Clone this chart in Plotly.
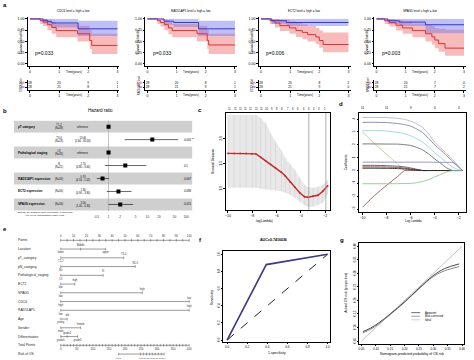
import plotly.graph_objects as go

W, H = 474, 360
FONT = "Liberation Sans, Arial, sans-serif"
RED = "#d83434"
BLUE = "#3636cf"
RED_FILL = "rgba(240,105,105,0.45)"
BLUE_FILL = "rgba(115,115,240,0.45)"

# ---------------- Panel a: Kaplan-Meier data ----------------
genes = ["CDC6", "RAD51AP1", "ECT2", "SPAG5"]
p_values = ["p=0.033", "p=0.033", "p=0.006", "p=0.003"]

km_high_t = [[0, 0.35, 0.45, 0.6, 0.75, 0.9, 1.63, 2.05, 2.12, 3.0],
             [0, 0.34, 0.45, 0.58, 0.72, 0.85, 1.7, 2.05, 2.1, 3.0],
             [0, 0.31, 0.48, 0.65, 0.98, 1.2, 1.42, 1.6, 1.88, 2.0, 2.13, 3.0],
             [0, 0.28, 0.45, 0.67, 0.9, 1.23, 1.68, 1.9, 2.0, 2.13, 2.35, 3.0]]
km_high_s = [[1, 0.96, 0.93, 0.87, 0.81, 0.74, 0.67, 0.52, 0.41, 0.41],
             [1, 0.96, 0.92, 0.87, 0.8, 0.74, 0.67, 0.52, 0.42, 0.42],
             [1, 0.96, 0.91, 0.85, 0.8, 0.74, 0.7, 0.65, 0.6, 0.52, 0.43, 0.43],
             [1, 0.96, 0.92, 0.86, 0.8, 0.74, 0.67, 0.6, 0.53, 0.45, 0.35, 0.35]]
km_high_u = [[1, 1, 1, 0.98, 0.94, 0.89, 0.85, 0.75, 0.67, 0.67],
             [1, 1, 1, 0.98, 0.93, 0.89, 0.85, 0.75, 0.67, 0.67],
             [1, 1, 1, 0.98, 0.95, 0.91, 0.88, 0.84, 0.8, 0.74, 0.7, 0.7],
             [1, 1, 1, 0.97, 0.94, 0.9, 0.87, 0.84, 0.8, 0.78, 0.76, 0.76]]
km_high_l = [[1, 0.89, 0.84, 0.75, 0.67, 0.59, 0.5, 0.33, 0.22, 0.22],
             [1, 0.89, 0.83, 0.75, 0.66, 0.59, 0.5, 0.33, 0.22, 0.22],
             [1, 0.89, 0.81, 0.73, 0.67, 0.6, 0.55, 0.5, 0.44, 0.36, 0.26, 0.26],
             [1, 0.89, 0.83, 0.74, 0.67, 0.59, 0.5, 0.43, 0.35, 0.27, 0.18, 0.18]]
km_low_t = [[0, 0.45, 0.6, 0.75, 1.65, 3.0],
            [0, 0.57, 0.9, 1.75, 3.0],
            [0, 0.37, 0.87, 3.0],
            [0, 0.39, 0.78, 1.68, 3.0]]
km_low_s = [[1, 0.97, 0.94, 0.91, 0.78, 0.78],
            [1, 0.95, 0.92, 0.78, 0.78],
            [1, 0.96, 0.92, 0.92],
            [1, 0.96, 0.93, 0.87, 0.87]]
km_low_u = [[1, 1, 1, 1, 0.96, 0.96],
            [1, 1, 1, 0.96, 0.96],
            [1, 1, 1, 1],
            [1, 1, 1, 1, 1]]
km_low_l = [[1, 0.9, 0.86, 0.81, 0.62, 0.62],
            [1, 0.87, 0.82, 0.62, 0.62],
            [1, 0.89, 0.84, 0.84],
            [1, 0.89, 0.84, 0.68, 0.68]]
risk_times = [0, 1, 2, 3]
risk_high = [[28, 20, 9, 1], [28, 20, 8, 1], [28, 20, 8, 2], [28, 20, 7, 0]]
risk_low = [[28, 21, 8, 1], [28, 21, 9, 1], [28, 21, 9, 0], [28, 21, 7, 2]]

# ---------------- Panel b: forest plot ----------------
fp_var = ["pT category", "", "Pathological staging", "", "RAD51AP1 expression",
          "ECT2 expression", "SPAG5 expression"]
fp_level = ["T1-2<br>(N=38)", "T3-4<br>(N=18)", "I-II<br>(N=35)", "III<br>(N=21)",
            "(N=56)", "(N=56)", "(N=56)"]
fp_hr = [1, 13.4, 1, 2.7, 0.7, 1.8, 2.0]
fp_lo = [1, 2.6, 1, 0.8, 0.5, 0.9, 1.0]
fp_hi = [1, 62.0, 1, 9.4, 1.02, 3.9, 4.3]
fp_ref = [True, False, True, False, False, False, False]
fp_p = ["", "0.001 **", "", "0.1", "0.067", "0.088", "0.051"]
fp_ticks = [0.5, 1, 2, 5, 10, 20, 50, 100]

# ---------------- Panel c: CV deviance ----------------
cv_lam = [-10, -9.5, -9, -8.5, -8, -7.7, -7.3, -6.9, -6.5, -6.1, -5.6, -5.3, -4.9,
          -4.5, -4.1, -3.7, -3.4, -3.0, -2.6, -2.2, -1.8]
cv_dev = [1.71, 1.71, 1.71, 1.71, 1.70, 1.70, 1.63, 1.56, 1.49, 1.42, 1.33, 1.26, 1.14,
          1.03, 0.92, 0.84, 0.83, 0.85, 0.87, 0.95, 1.06]
cv_up = [2.48, 2.48, 2.48, 2.48, 2.48, 2.48, 2.42, 2.32, 2.12, 1.95, 1.77, 1.62, 1.5,
         1.38, 1.22, 1.08, 1.03, 1.02, 1.04, 1.08, 1.17]
cv_lo = [1.02, 1.02, 1.02, 1.02, 1.02, 1.02, 1.0, 0.99, 0.98, 0.97, 0.95, 0.92, 0.88,
         0.82, 0.74, 0.67, 0.64, 0.64, 0.67, 0.72, 0.9]
cv_top_lam = [-9.85, -9.42, -8.98, -8.55, -8.12, -7.68, -7.25, -6.82, -6.38, -5.95,
              -5.52, -5.08, -4.65, -4.22, -3.78, -3.35, -2.92, -2.48, -2.05]
cv_top_n = [11, 11, 11, 11, 11, 11, 11, 10, 9, 8, 8, 7, 6, 6, 6, 6, 4, 3, 2]
lam_min, lam_1se = -3.35, -1.95

# ---------------- Panel d: LASSO paths ----------------
ls_lam = [-10, -9, -8, -7, -6.5, -6, -5.5, -5, -4.5, -4, -3.5, -3, -2.5, -2, -1.7]
ls_coef = [
    [4.13, 4.13, 4.12, 4.05, 3.97, 3.85, 3.63, 3.35, 2.85, 2.2, 1.75, 1.3, 0.85, 0.3, 0],
    [3.75, 3.75, 3.73, 3.65, 3.57, 3.45, 3.23, 2.95, 2.5, 2.0, 1.58, 1.15, 0.7, 0.25, 0],
    [3.1, 3.1, 3.08, 2.95, 2.85, 2.7, 2.47, 2.2, 1.82, 1.4, 1.0, 0.6, 0.25, 0.05, 0],
    [3.0, 2.1, 1.25, 0.45, 0, 0, 0, 0, 0, 0, 0, 0, 0, 0, 0],
    [-2.85, -1.95, -1.15, -0.4, 0, 0, 0, 0, 0, 0, 0, 0, 0, 0, 0],
    [2.07, 2.07, 2.06, 2.05, 2.01, 1.95, 1.8, 1.6, 1.28, 0.9, 0.55, 0.2, 0, 0, 0],
    [0.65, 0.65, 0.65, 0.65, 0.65, 0.65, 0.65, 0.65, 0.65, 0.64, 0.64, 0.63, 0.62, 0.3, 0],
    [0.4, 0.4, 0.38, 0.33, 0.28, 0.2, 0.1, 0, 0, 0, 0, 0, 0, 0, 0],
    [0.28, 0.28, 0.27, 0.23, 0.19, 0.13, 0.06, 0, 0, 0, 0, 0, 0, 0, 0],
    [0.18, 0.18, 0.17, 0.15, 0.12, 0.08, 0.03, 0, 0, 0, 0, 0, 0, 0, 0],
    [-1.03, -1.03, -1.03, -1.02, -1.01, -1.0, -0.95, -0.85, -0.7, -0.5, -0.3, -0.1, 0, 0, 0],
]
ls_colors = ["#a9b8d8", "#8a7f9e", "#93d5dc", "#c2c79a", "#9e5252", "#6b6b6b",
             "#8f86b5", "#555555", "#8b3a3a", "#222222", "#8cc48c"]
ls_top_lam = [-10, -8, -6, -4, -2]
ls_top_n = ["11", "11", "9", "6", "3"]

# ---------------- Panel e: nomogram ----------------
nomo_vars = ["Location", "pT_category", "pN_category", "Pathological_staging", "ECT2",
             "SPAG5", "CDC6", "RAD51AP1", "Age", "Gender", "Differentiation"]
nomo_levels = [["lower", "Middle", "upper"], ["T1-2", "T3-4"], ["N0", "N1-3"],
               ["I-II", "III"], ["low", "high"], ["low", "high"], ["high", "low"],
               ["low", "high"], ["young", "old"], ["male", "female"],
               ["grade1", "grade2", "grade3"]]
nomo_points = [[0, 15.5, 35], [0, 49], [0, 58], [0, 33], [0, 11], [0, 63.5], [0, 100],
               [0, 100], [0, 5], [0, 15.5], [0, 5, 13]]
total_ticks = [0, 50, 100, 150, 200, 250, 300, 350, 400]
risk_labels = ["0.001", "0.1", "0.2", "0.3", "0.4", "0.5", "0.6", "0.7", "0.8", "0.9"]
risk_total = [180, 248, 257, 267, 276, 285, 294, 304, 313, 322]

# ---------------- Panel f: ROC ----------------
roc_fpr = [0, 0.39, 1.0]
roc_tpr = [0, 0.88, 1.0]
auc_text = "AUC=0.7416036"

# ---------------- Panel g: calibration ----------------
cal_x = [0.055, 0.08, 0.11, 0.15, 0.2, 0.25, 0.3, 0.34, 0.39]
cal_apparent = [0.085, 0.097, 0.117, 0.15, 0.195, 0.245, 0.292, 0.318, 0.335]
cal_bias = [0.08, 0.093, 0.113, 0.148, 0.193, 0.243, 0.288, 0.31, 0.325]
ideal = [0.05, 0.40]

# ======================================================================
fig = go.Figure()
layout_axes = {}
ann = []
shapes = []


def ref(n):
    return ("x" if n == 1 else f"x{n}"), ("y" if n == 1 else f"y{n}")


def key(n):
    return ("xaxis" if n == 1 else f"xaxis{n}"), ("yaxis" if n == 1 else f"yaxis{n}")


def xdom(a, b):
    return [a / W, b / W]


def ydom(top, bottom):
    return [1 - bottom / H, 1 - top / H]


def axis(domain, rng, anchor, **kw):
    d = dict(domain=domain, range=rng, anchor=anchor, showgrid=False, zeroline=False,
             showline=True, linecolor="#000", linewidth=0.6, ticks="outside",
             ticklen=2, tickwidth=0.6, tickcolor="#000",
             tickfont=dict(size=3.5, color="#000", family=FONT))
    d.update(kw)
    return d


def text(x, y, t, size=3.5, xanchor="center", yanchor="middle", angle=0, color="#000",
         xref="paper", yref="paper", bold=False):
    if bold:
        t = f"<b>{t}</b>"
    ann.append(dict(x=x, y=y, text=t, showarrow=False, xref=xref, yref=yref,
                    xanchor=xanchor, yanchor=yanchor, textangle=angle,
                    font=dict(size=size, color=color, family=FONT)))


def P(xp):
    return xp / W


def Q(yp):
    return 1 - yp / H


# ---------------- Panel a ----------------
km_left = [27, 145, 259, 375]
for i, g in enumerate(genes):
    n = i + 1
    xr, yr = ref(n)
    kx, ky = key(n)
    L = km_left[i]
    layout_axes[kx] = axis(xdom(L, L + 92), [-0.07, 3.07], yr, tickvals=[0, 1, 2, 3])
    layout_axes[ky] = axis(ydom(16, 65), [-0.044, 1.044], xr,
                           tickvals=[0, 0.25, 0.5, 0.75, 1.0],
                           ticktext=["0.00", "0.25", "0.50", "0.75", "1.00"])
    fig.add_trace(go.Scatter(x=km_high_t[i], y=km_high_l[i], xaxis=xr, yaxis=yr,
                             mode="lines", line=dict(width=0, shape="hv"),
                             showlegend=False, hoverinfo="skip"))
    fig.add_trace(go.Scatter(x=km_high_t[i], y=km_high_u[i], xaxis=xr, yaxis=yr,
                             mode="lines", line=dict(width=0, shape="hv"), fill="tonexty",
                             fillcolor=RED_FILL, showlegend=False, hoverinfo="skip"))
    fig.add_trace(go.Scatter(x=km_low_t[i], y=km_low_l[i], xaxis=xr, yaxis=yr,
                             mode="lines", line=dict(width=0, shape="hv"),
                             showlegend=False, hoverinfo="skip"))
    fig.add_trace(go.Scatter(x=km_low_t[i], y=km_low_u[i], xaxis=xr, yaxis=yr,
                             mode="lines", line=dict(width=0, shape="hv"), fill="tonexty",
                             fillcolor=BLUE_FILL, showlegend=False, hoverinfo="skip"))
    fig.add_trace(go.Scatter(x=km_high_t[i], y=km_high_s[i], xaxis=xr, yaxis=yr,
                             mode="lines", line=dict(width=1, color=RED, shape="hv"),
                             showlegend=False))
    fig.add_trace(go.Scatter(x=km_low_t[i], y=km_low_s[i], xaxis=xr, yaxis=yr,
                             mode="lines", line=dict(width=1, color=BLUE, shape="hv"),
                             showlegend=False))
    text(0.12, 0.25, p_values[i], size=5, xanchor="left", xref=xr, yref=yr)
    cx = L + 46
    text(P(cx), Q(10),
         f"{g} level <span style='color:#e06a6a'>■</span> high "
         f"<span style='color:#6a6ae6'>■</span> low", size=3)
    text(P(L - 7), Q(40.5), "Survival probability", size=3, angle=-90)
    text(P(cx), Q(71), "Time(years)", size=3)

    n2 = i + 5
    xr2, yr2 = ref(n2)
    kx2, ky2 = key(n2)
    layout_axes[kx2] = axis(xdom(L, L + 92), [-0.07, 3.07], yr2, tickvals=[0, 1, 2, 3])
    layout_axes[ky2] = axis(ydom(79, 89.5), [-0.7, 1.7], xr2, tickvals=[1, 0],
                            ticktext=[f"<span style='color:{RED}'>high</span>",
                                      f"<span style='color:{BLUE}'>low</span>"],
                            tickfont=dict(size=2.8, family=FONT))
    fig.add_trace(go.Scatter(x=risk_times, y=[1] * 4, xaxis=xr2, yaxis=yr2, mode="text",
                             text=[str(v) for v in risk_high[i]],
                             textfont=dict(size=3.2, family=FONT), showlegend=False))
    fig.add_trace(go.Scatter(x=risk_times, y=[0] * 4, xaxis=xr2, yaxis=yr2, mode="text",
                             text=[str(v) for v in risk_low[i]],
                             textfont=dict(size=3.2, family=FONT), showlegend=False))
    text(P(L - 7), Q(84), f"{g} level", size=2.6, angle=-90)
    text(P(cx), Q(94), "Time(years)", size=3)

# ---------------- Panel b ----------------
xr, yr = ref(9)
kx, ky = key(9)
layout_axes[kx] = axis(xdom(90, 192), [-0.4615, 2.154], yr, type="log",
                       tickvals=fp_ticks, ticktext=[str(v) for v in fp_ticks],
                       showline=False, ticks="", tickfont=dict(size=3.2, family=FONT,
                                                               color="#333"))
layout_axes[ky] = axis(ydom(119.5, 213.1), [7.7, 0.5], xr, visible=False)
rows = list(range(1, 8))
for r in rows:
    if r % 2 == 1:
        shapes.append(dict(type="rect", xref="paper", yref=yr, x0=P(13), x1=P(192),
                           y0=r - 0.46, y1=r + 0.46, fillcolor="#cfcfcf", line_width=0,
                           layer="below"))
shapes.append(dict(type="line", xref=xr, yref=yr, x0=1, x1=1, y0=0.5, y1=7.5,
                   line=dict(color="#a0a0a0", width=0.6), layer="below"))
fig.add_trace(go.Scatter(
    x=fp_hr, y=rows, xaxis=xr, yaxis=yr, mode="markers",
    marker=dict(symbol="square", size=4, color="#000"),
    error_x=dict(type="data", symmetric=False,
                 array=[h - m for h, m in zip(fp_hi, fp_hr)],
                 arrayminus=[m - l for m, l in zip(fp_hr, fp_lo)],
                 color="#000", thickness=0.6, width=0),
    showlegend=False))
for r, v, lv, h, lo, hi, isref, p in zip(rows, fp_var, fp_level, fp_hr, fp_lo, fp_hi,
                                          fp_ref, fp_p):
    if v:
        text(P(15), r, v, size=3, xanchor="left", yref=yr, bold=True)
    text(P(52), r, lv, size=2.6, xanchor="left", yref=yr)
    if isref:
        text(P(82), r, "reference", size=2.6, yref=yr)
    else:
        text(P(82), r, f"{h:.2f}<br>({lo:.2f} - {hi:.2f})", size=2.6, yref=yr)
    if p:
        text(P(182), r, p, size=2.8, xanchor="left", yref=yr)
text(P(100), Q(110), "Hazard ratio", size=4.5)
text(P(13), Q(214), "# Events: 16; Global p-value (Log-Rank): 0.00014186<br>"
     "AIC: 91.91; Concordance Index: 0.85", size=2.4, xanchor="left")

# ---------------- Panel c ----------------
xr, yr = ref(10)
kx, ky = key(10)
layout_axes[kx] = axis(xdom(226, 330), [-10.16, -1.64], yr, mirror=True,
                       tickvals=[-10, -8, -6, -4, -2])
layout_axes[ky] = axis(ydom(112, 210), [0.566, 2.526], xr, mirror=True,
                       tickvals=[1.0, 1.5, 2.0], ticktext=["1.0", "1.5", "2.0"],
                       tickangle=-90)
fig.add_trace(go.Scatter(x=cv_lam, y=cv_lo, xaxis=xr, yaxis=yr, mode="lines",
                         line=dict(width=0), showlegend=False, hoverinfo="skip"))
fig.add_trace(go.Scatter(x=cv_lam, y=cv_up, xaxis=xr, yaxis=yr, mode="lines",
                         line=dict(width=0), fill="tonexty", fillcolor="#e8e8e8",
                         showlegend=False, hoverinfo="skip"))
fig.add_trace(go.Scatter(x=cv_lam, y=cv_dev, xaxis=xr, yaxis=yr, mode="markers",
                         marker=dict(size=0.1, color="rgba(0,0,0,0)"),
                         error_y=dict(type="data", symmetric=False,
                                      array=[u - d for u, d in zip(cv_up, cv_dev)],
                                      arrayminus=[d - l for d, l in zip(cv_dev, cv_lo)],
                                      color="#d2d2d2", thickness=0.6, width=0),
                         showlegend=False, hoverinfo="skip"))
for lv in (lam_min, lam_1se):
    shapes.append(dict(type="line", xref=xr, yref=yr, x0=lv, x1=lv, y0=0.566, y1=2.526,
                       line=dict(color="#9a9a9a", width=0.8)))
fig.add_trace(go.Scatter(x=cv_lam, y=cv_dev, xaxis=xr, yaxis=yr, mode="lines+markers",
                         line=dict(color="#c62828", width=1.4),
                         marker=dict(size=1.8, color="#c62828"), showlegend=False))
for lv, nv in zip(cv_top_lam, cv_top_n):
    text(lv, Q(108.5), str(nv), size=2.6, xref=xr)
text(P(265), Q(220.5), "log(Lambda)", size=3)
text(P(212), Q(161), "Binomial Deviance", size=3, angle=-90)

# ---------------- Panel d ----------------
xr, yr = ref(11)
kx, ky = key(11)
layout_axes[kx] = axis(xdom(360, 467), [-10.25, -1.4], yr, mirror=True,
                       tickvals=[-10, -8, -6, -4, -2])
layout_axes[ky] = axis(ydom(112, 212), [-3.26, 4.5], xr, mirror=True,
                       tickvals=[-3, -2, -1, 0, 1, 2, 3, 4], tickangle=-90)
for c, col in zip(ls_coef, ls_colors):
    fig.add_trace(go.Scatter(x=ls_lam, y=c, xaxis=xr, yaxis=yr, mode="lines",
                             line=dict(color=col, width=0.9, shape="spline",
                                       smoothing=0.6),
                             showlegend=False))
for lv, nv in zip(ls_top_lam, ls_top_n):
    text(lv, Q(107.5), nv, size=3, xref=xr)
text(P(414), Q(220.5), "Log Lambda", size=3)
text(P(346), Q(162), "Coefficients", size=3, angle=-90)

# ---------------- Panel e: nomogram ----------------
xr, yr = ref(12)
kx, ky = key(12)
layout_axes[kx] = dict(domain=xdom(0, 200), range=[-46.51, 108.53], anchor=yr,
                       visible=False)
layout_axes[ky] = dict(domain=ydom(231.2, 360), range=[13.68, -1], anchor=xr,
                       visible=False)
AX = "#555555"
row_names = ["Points"] + nomo_vars + ["Total Points", "Risk of OS"]
for r, nm in enumerate(row_names):
    text(P(15), r, nm, size=3.3, xanchor="left", yref=yr, color="#222")
pts_minor = list(range(0, 101, 5))
pts_major = list(range(0, 101, 10))
fig.add_trace(go.Scatter(x=[0, 100], y=[0, 0], xaxis=xr, yaxis=yr, mode="lines",
                         line=dict(color=AX, width=0.6), showlegend=False))
fig.add_trace(go.Scatter(x=pts_minor, y=[0] * len(pts_minor), xaxis=xr, yaxis=yr,
                         mode="markers", marker=dict(symbol="line-ns", size=2,
                                                     line=dict(width=0.5, color=AX)),
                         showlegend=False))
fig.add_trace(go.Scatter(x=pts_major, y=[-0.5] * len(pts_major), xaxis=xr, yaxis=yr,
                         mode="text", text=[str(v) for v in pts_major],
                         textfont=dict(size=2.8, color="#333", family=FONT),
                         showlegend=False))
for r, (lvls, pts) in enumerate(zip(nomo_levels, nomo_points), start=1):
    fig.add_trace(go.Scatter(x=[min(pts), max(pts)], y=[r, r], xaxis=xr, yaxis=yr,
                             mode="lines", line=dict(color=AX, width=0.6),
                             showlegend=False))
    fig.add_trace(go.Scatter(x=pts, y=[r] * len(pts), xaxis=xr, yaxis=yr,
                             mode="markers", marker=dict(symbol="line-ns", size=2,
                                                         line=dict(width=0.5, color=AX)),
                             showlegend=False))
    ys = [r + 0.42 if k % 2 == 0 else r - 0.42 for k in range(len(pts))]
    fig.add_trace(go.Scatter(x=pts, y=ys, xaxis=xr, yaxis=yr, mode="text", text=lvls,
                             textfont=dict(size=2.6, color="#333", family=FONT),
                             showlegend=False))
tot_minor = list(range(0, 401, 10))
fig.add_trace(go.Scatter(x=[0, 100], y=[12, 12], xaxis=xr, yaxis=yr, mode="lines",
                         line=dict(color=AX, width=0.6), showlegend=False))
fig.add_trace(go.Scatter(x=[t / 4 for t in tot_minor], y=[12] * len(tot_minor),
                         xaxis=xr, yaxis=yr, mode="markers",
                         marker=dict(symbol="line-ns", size=2,
                                     line=dict(width=0.5, color=AX)),
                         showlegend=False))
fig.add_trace(go.Scatter(x=[t / 4 for t in total_ticks], y=[12.5] * len(total_ticks),
                         xaxis=xr, yaxis=yr, mode="text",
                         text=[str(t) for t in total_ticks],
                         textfont=dict(size=2.8, color="#333", family=FONT),
                         showlegend=False))
rk = [t / 4 for t in risk_total]
fig.add_trace(go.Scatter(x=[min(rk), max(rk)], y=[13, 13], xaxis=xr, yaxis=yr,
                         mode="lines", line=dict(color=AX, width=0.6), showlegend=False))
fig.add_trace(go.Scatter(x=rk, y=[13] * len(rk), xaxis=xr, yaxis=yr, mode="markers",
                         marker=dict(symbol="line-ns", size=2,
                                     line=dict(width=0.5, color=AX)),
                         showlegend=False))
fig.add_trace(go.Scatter(x=rk, y=[13.45] * len(rk), xaxis=xr, yaxis=yr, mode="text",
                         text=risk_labels,
                         textfont=dict(size=2.2, color="#333", family=FONT),
                         showlegend=False))

# ---------------- Panel f ----------------
xr, yr = ref(13)
kx, ky = key(13)
ticks01 = [0, 0.2, 0.4, 0.6, 0.8, 1.0]
small = dict(size=3, color="#000", family=FONT)
layout_axes[kx] = axis(xdom(223, 330), [-0.04, 1.02], yr, mirror=True, tickvals=ticks01,
                       ticktext=[f"{v:.1f}" for v in ticks01], ticklen=1.5,
                       tickfont=small)
layout_axes[ky] = axis(ydom(251, 342), [-0.023, 1.035], xr, mirror=True,
                       tickvals=ticks01, ticktext=[f"{v:.1f}" for v in ticks01],
                       tickangle=-90, ticklen=1.5, tickfont=small)
fig.add_trace(go.Scatter(x=[0, 1], y=[0, 1], xaxis=xr, yaxis=yr, mode="lines",
                         line=dict(color="#222", width=1, dash="dash"), showlegend=False))
fig.add_trace(go.Scatter(x=roc_fpr, y=roc_tpr, xaxis=xr, yaxis=yr, mode="lines",
                         line=dict(color="#3b3b86", width=1.6), showlegend=False))
text(P(274), Q(240), auc_text, size=3.6, bold=True)
text(P(277), Q(353), "1-specificity", size=3.4)
text(P(212), Q(297), "Sensitivity", size=3.4, angle=-90)

# ---------------- Panel g ----------------
xr, yr = ref(14)
kx, ky = key(14)
cal_ticks = [0.05, 0.10, 0.15, 0.20, 0.25, 0.30, 0.35, 0.40]
layout_axes[kx] = axis(xdom(360, 465), [0.0431, 0.4069], yr, mirror=True,
                       tickvals=cal_ticks, ticktext=[f"{v:.2f}" for v in cal_ticks],
                       ticklen=1.5, tickfont=small)
layout_axes[ky] = axis(ydom(243, 344), [0.039, 0.411], xr, mirror=True,
                       tickvals=cal_ticks, ticktext=[f"{v:.2f}" for v in cal_ticks],
                       tickangle=-90, ticklen=1.5, tickfont=small)
fig.add_trace(go.Scatter(x=ideal, y=ideal, xaxis=xr, yaxis=yr, mode="lines",
                         line=dict(color="#c4c4c4", width=1), showlegend=False))
fig.add_trace(go.Scatter(x=cal_x, y=cal_bias, xaxis=xr, yaxis=yr, mode="lines",
                         line=dict(color="#8a8a8a", width=1, shape="spline"),
                         showlegend=False))
fig.add_trace(go.Scatter(x=cal_x, y=cal_apparent, xaxis=xr, yaxis=yr, mode="lines",
                         line=dict(color="#4a4a4a", width=1, shape="spline"),
                         showlegend=False))
leg = [("Apparent", "#4a4a4a"), ("Bias-corrected", "#8a8a8a"), ("Ideal", "#c4c4c4")]
for k, (lab, col) in enumerate(leg):
    yy = 312.5 + 3.6 * k
    shapes.append(dict(type="line", xref="paper", yref="paper", x0=P(412), x1=P(421),
                       y0=Q(yy), y1=Q(yy), line=dict(color=col, width=0.8)))
    text(P(423.5), Q(yy), lab, size=2.8, xanchor="left")
text(P(413), Q(354), "Nomogram-predicted probability of OS risk", size=3.4)
text(P(347), Q(293), "Actual OS risk (proportion)", size=3.4, angle=-90)

for lt, xx, yy in [("a", 4, 4), ("b", 4, 110), ("c", 200, 109), ("d", 341, 103),
                   ("e", 4, 229), ("f", 200, 240), ("g", 342, 240)]:
    text(P(xx), Q(yy), lt, size=6, bold=True)

fig.update_layout(width=W, height=H, margin=dict(l=0, r=0, t=0, b=0),
                  paper_bgcolor="white", plot_bgcolor="white",
                  font=dict(family=FONT, size=4, color="#000"),
                  showlegend=False, annotations=ann, shapes=shapes, **layout_axes)
fig.write_html("out.html", config={"displayModeBar": False},
               post_script="document.body.style.margin='0';"
                           "document.body.style.overflow='hidden';")
